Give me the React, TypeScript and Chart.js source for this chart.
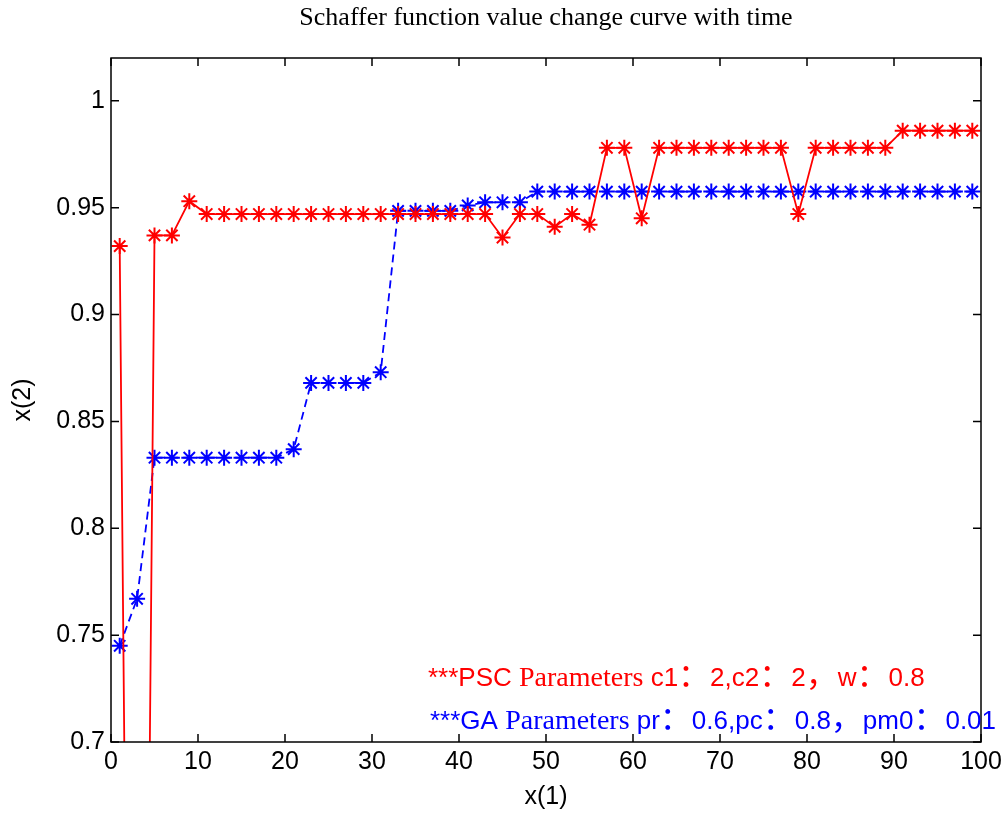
import React, { useEffect, useRef } from "react";
import { Chart, registerables } from "chart.js";

Chart.register(...registerables);

// ---- data ----
const iterations = [
  1, 3, 5, 7, 9, 11, 13, 15, 17, 19,
  21, 23, 25, 27, 29, 31, 33, 35, 37, 39,
  41, 43, 45, 47, 49, 51, 53, 55, 57, 59,
  61, 63, 65, 67, 69, 71, 73, 75, 77, 79,
  81, 83, 85, 87, 89, 91, 93, 95, 97, 99,
];

const pscValues = [
  0.932, 0.05, 0.937, 0.937, 0.953, 0.947, 0.947, 0.947, 0.947, 0.947,
  0.947, 0.947, 0.947, 0.947, 0.947, 0.947, 0.947, 0.947, 0.947, 0.947,
  0.947, 0.947, 0.936, 0.947, 0.947, 0.941, 0.947, 0.942, 0.978, 0.978,
  0.945, 0.978, 0.978, 0.978, 0.978, 0.978, 0.978, 0.978, 0.978, 0.947,
  0.978, 0.978, 0.978, 0.978, 0.978, 0.986, 0.986, 0.986, 0.986, 0.986,
];

const gaValues = [
  0.745, 0.767, 0.833, 0.833, 0.833, 0.833, 0.833, 0.833, 0.833, 0.833,
  0.837, 0.868, 0.868, 0.868, 0.868, 0.873, 0.9485, 0.9485, 0.9485, 0.9485,
  0.951, 0.9525, 0.9525, 0.9525, 0.9575, 0.9575, 0.9575, 0.9575, 0.9575, 0.9575,
  0.9575, 0.9575, 0.9575, 0.9575, 0.9575, 0.9575, 0.9575, 0.9575, 0.9575, 0.9575,
  0.9575, 0.9575, 0.9575, 0.9575, 0.9575, 0.9575, 0.9575, 0.9575, 0.9575, 0.9575,
];

const xTickValues = [0, 10, 20, 30, 40, 50, 60, 70, 80, 90, 100];
const xTickLabels = ["0", "10", "20", "30", "40", "50", "60", "70", "80", "90", "100"];
const yTickValues = [0.7, 0.75, 0.8, 0.85, 0.9, 0.95, 1];
const yTickLabels = ["0.7", "0.75", "0.8", "0.85", "0.9", "0.95", "1"];

const titleText = "Schaffer function value change curve with time";
const xTitleText = "x(1)";
const yTitleText = "x(2)";
const pscNote = "***PSC Parameters c1：2,c2：2，w：0.8";
const gaNote = "***GA Parameters pr：0.6,pc：0.8，pm0：0.01";

const RED = "#ff0000";
const BLUE = "#0000ff";
const SANS = "'Liberation Sans', Arial, sans-serif";
const SERIF = "'Liberation Serif', 'Times New Roman', serif";
const CJK = "'Noto Sans CJK SC', sans-serif";

function drawNote(ctx: CanvasRenderingContext2D, text: string, x: number, y: number, color: string) {
  const parts = text.split(/(Parameters|[：，])/).filter((p) => p.length > 0);
  ctx.save();
  ctx.fillStyle = color;
  ctx.textBaseline = "alphabetic";
  ctx.textAlign = "left";
  let cx = x;
  for (const p of parts) {
    if (p === "Parameters") ctx.font = `28px ${SERIF}`;
    else if (p === "：" || p === "，") ctx.font = `32px ${CJK}`;
    else ctx.font = `26px ${SANS}`;
    ctx.fillText(p, cx, y);
    cx += ctx.measureText(p).width;
  }
  ctx.restore();
}

const framePlugin = {
  id: "matlabFrame",
  afterDatasetsDraw(chart: any) {
    const { ctx, chartArea: a, scales } = chart;
    ctx.save();
    ctx.strokeStyle = "#000";
    ctx.lineWidth = 1.5;
    ctx.strokeRect(a.left, a.top, a.right - a.left, a.bottom - a.top);
    const tl = 8;
    ctx.beginPath();
    for (const v of xTickValues) {
      const px = scales.x.getPixelForValue(v);
      ctx.moveTo(px, a.bottom);
      ctx.lineTo(px, a.bottom - tl);
      ctx.moveTo(px, a.top);
      ctx.lineTo(px, a.top + tl);
    }
    for (const v of yTickValues) {
      const py = scales.y.getPixelForValue(v);
      ctx.moveTo(a.left, py);
      ctx.lineTo(a.left + tl, py);
      ctx.moveTo(a.right, py);
      ctx.lineTo(a.right - tl, py);
    }
    ctx.stroke();
    ctx.restore();
  },
  afterDraw(chart: any) {
    const ctx = chart.ctx;
    drawNote(ctx, pscNote, 428, 686, RED);
    drawNote(ctx, gaNote, 430, 729, BLUE);
  },
};

export default function App() {
  const canvasRef = useRef<HTMLCanvasElement | null>(null);

  useEffect(() => {
    if (!canvasRef.current) return;
    const pscData = iterations.map((x, i) => ({ x, y: pscValues[i] }));
    const gaData = iterations.map((x, i) => ({ x, y: gaValues[i] }));

    const chart = new Chart(canvasRef.current, {
      type: "line",
      data: {
        datasets: [
          {
            label: "PSC",
            data: pscData,
            borderColor: RED,
            backgroundColor: RED,
            borderWidth: 1.8,
            pointStyle: "star",
            pointRadius: 8,
            pointBorderWidth: 2,
            pointBorderColor: RED,
            pointBackgroundColor: RED,
            tension: 0,
            fill: false,
          },
          {
            label: "GA",
            data: gaData,
            borderColor: BLUE,
            backgroundColor: BLUE,
            borderWidth: 1.8,
            borderDash: [8, 5],
            pointStyle: "star",
            pointRadius: 8,
            pointBorderWidth: 2,
            pointBorderColor: BLUE,
            pointBackgroundColor: BLUE,
            tension: 0,
            fill: false,
          },
        ],
      },
      options: {
        responsive: false,
        animation: false,
        devicePixelRatio: 1,
        layout: { padding: { left: 0, right: 23, top: 0, bottom: 0 } },
        plugins: {
          legend: { display: false },
          tooltip: { enabled: false },
          title: {
            display: true,
            text: titleText,
            fullSize: false,
            color: "#000",
            font: { family: SERIF, size: 26, weight: "normal" },
            padding: { top: 3, bottom: 23.8 },
          },
        },
        scales: {
          x: {
            type: "linear",
            min: 0,
            max: 100,
            grid: { display: false, drawTicks: false },
            border: { display: false },
            afterBuildTicks: (scale: any) => {
              scale.ticks = xTickValues.map((v) => ({ value: v }));
            },
            afterFit: (scale: any) => {
              scale.height = 76;
              scale.paddingLeft = 0;
              scale.paddingRight = 0;
            },
            ticks: {
              color: "#000",
              padding: 5,
              maxRotation: 0,
              autoSkip: false,
              font: { family: SANS, size: 25 },
              callback: (_v: any, i: number) => xTickLabels[i],
            },
            title: {
              display: true,
              text: xTitleText,
              color: "#000",
              font: { family: SANS, size: 25 },
              padding: { top: 0, bottom: 6 },
            },
          },
          y: {
            type: "linear",
            min: 0.7,
            max: 1.02,
            grid: { display: false, drawTicks: false },
            border: { display: false },
            afterBuildTicks: (scale: any) => {
              scale.ticks = yTickValues.map((v) => ({ value: v }));
            },
            afterFit: (scale: any) => {
              scale.width = 111;
              scale.paddingTop = 0;
              scale.paddingBottom = 0;
            },
            ticks: {
              color: "#000",
              padding: 6,
              autoSkip: false,
              font: { family: SANS, size: 25 },
              callback: (_v: any, i: number) => yTickLabels[i],
            },
            title: {
              display: true,
              text: yTitleText,
              color: "#000",
              font: { family: SANS, size: 25 },
              padding: { top: 8, bottom: 0 },
            },
          },
        },
      },
      plugins: [framePlugin],
    } as any);

    return () => chart.destroy();
  }, []);

  return (
    <div style={{ position: "absolute", left: 0, top: 0, width: 1004, height: 818, background: "#fff" }}>
      <canvas ref={canvasRef} width={1004} height={818} style={{ display: "block" }} />
    </div>
  );
}
